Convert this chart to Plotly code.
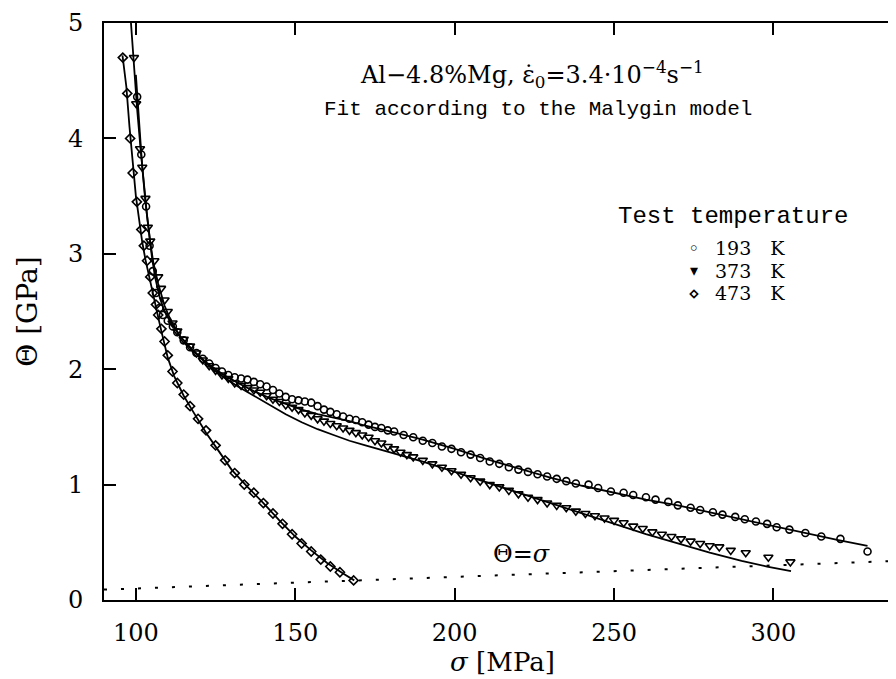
import plotly.graph_objects as go

# ---------------- data ----------------
# 193 K  (open circles)
s193 = [100.4, 101.7, 103.2, 104.3, 105.3, 106.3, 107.4, 108.5, 110, 111.6, 113, 115, 117, 119, 121, 123,
        125, 127, 129, 131, 133, 135, 137, 139, 141, 143, 145, 147, 149, 151, 153, 155, 157, 159, 161, 163,
        165, 167, 169, 171, 173, 175, 177, 179, 181, 184, 187, 190, 193, 196, 199, 202, 205, 208, 211, 214,
        217, 220, 223, 226, 229, 232, 235, 238, 242, 245, 249, 253, 256, 260, 263, 267, 270, 274, 277, 281,
        284, 288, 291, 294.5, 298, 301, 305, 310, 315, 321, 329.5]
t193 = [4.36, 3.86, 3.41, 3.07, 2.85, 2.66, 2.53, 2.47, 2.42, 2.37, 2.32, 2.25, 2.19, 2.14, 2.09, 2.05,
        2.01, 1.98, 1.95, 1.93, 1.92, 1.91, 1.89, 1.87, 1.85, 1.82, 1.79, 1.76, 1.74, 1.73, 1.72, 1.71, 1.68, 1.65, 1.63, 1.61,
        1.59, 1.57, 1.56, 1.54, 1.52, 1.50, 1.49, 1.47, 1.46, 1.43, 1.41, 1.38, 1.36, 1.33, 1.31, 1.28, 1.26, 1.23, 1.20, 1.18,
        1.15, 1.13, 1.11, 1.09, 1.07, 1.05, 1.03, 1.01, 1.00, 0.97, 0.94, 0.93, 0.91, 0.89, 0.87, 0.85, 0.82, 0.80, 0.78, 0.76,
        0.74, 0.72, 0.70, 0.68, 0.66, 0.63, 0.61, 0.58, 0.55, 0.53, 0.42]

# 373 K  (triangles)
s373 = [99.4, 100.1, 101.3, 102.0, 103.0, 103.75, 104.5, 105.8, 107, 107.9, 109, 110, 111.5, 113, 115, 117,
        119, 121, 123, 125, 127, 129, 131, 133, 135, 137, 139, 141, 143, 145, 147, 149, 151, 153, 155, 157,
        159, 161, 163, 165, 167, 169, 171, 173, 175, 177, 179, 181, 183, 185, 187, 190, 193, 196, 199, 202,
        205, 208, 211, 214, 217, 220, 223, 226, 229, 232, 235, 238, 241, 244, 247, 250, 253, 256, 259, 262,
        265, 268, 271, 274, 277, 280, 283, 286.6, 291.3, 298.4, 305.3]
t373 = [4.70, 4.30, 3.91, 3.75, 3.48, 3.23, 3.11, 2.94, 2.80, 2.70, 2.60, 2.50, 2.40, 2.33, 2.26, 2.20,
        2.14, 2.08, 2.03, 1.99, 1.95, 1.92, 1.88, 1.86, 1.84, 1.82, 1.80, 1.77, 1.74, 1.72, 1.69, 1.67, 1.65, 1.62, 1.60, 1.57,
        1.55, 1.53, 1.51, 1.49, 1.47, 1.45, 1.43, 1.41, 1.38, 1.36, 1.33, 1.31, 1.28, 1.26, 1.24, 1.21, 1.18, 1.15, 1.12, 1.09,
        1.06, 1.03, 1.00, 0.98, 0.95, 0.92, 0.89, 0.87, 0.84, 0.82, 0.80, 0.77, 0.75, 0.73, 0.71, 0.69, 0.67, 0.64, 0.62, 0.59,
        0.57, 0.55, 0.53, 0.51, 0.49, 0.47, 0.46, 0.43, 0.41, 0.37, 0.33]

# 473 K  (diamonds)
s473 = [95.9, 97.3, 98.2, 99.0, 100.3, 101.7, 102.5, 103.5, 104.5, 105.3, 106.3, 107, 108, 109, 110, 111.5,
        113, 115, 117, 119.5, 122, 125, 128, 131, 134, 137, 140, 143, 146, 149, 152, 155, 158, 161, 164, 168.3]
t473 = [4.70, 4.39, 4.00, 3.70, 3.45, 3.21, 3.07, 2.94, 2.80, 2.66, 2.56, 2.47, 2.35, 2.24, 2.12, 1.98,
        1.88, 1.78, 1.68, 1.57, 1.47, 1.34, 1.21, 1.10, 1.00, 0.93, 0.84, 0.75, 0.66, 0.57, 0.49, 0.42, 0.35, 0.29, 0.24, 0.17]

# Malygin-model fits (solid lines)
fit193_s = [100.0, 101, 102, 103, 104, 105, 106, 107.5, 109, 111, 114, 118, 122, 127, 132, 137, 142, 147, 152, 157,
            162, 167, 172, 180, 190, 200, 210, 220, 230, 240, 250, 260, 270, 280, 290, 300, 310, 320, 329.5]
fit193_t = [4.55, 4.10, 3.75, 3.45, 3.20, 2.98, 2.80, 2.62, 2.50, 2.40, 2.28, 2.16, 2.06, 1.96, 1.88, 1.81, 1.75, 1.70, 1.65, 1.61,
            1.58, 1.55, 1.51, 1.46, 1.39, 1.31, 1.22, 1.14, 1.06, 0.99, 0.93, 0.87, 0.82, 0.76, 0.70, 0.64, 0.58, 0.52, 0.47]
fit373_s = [98.2, 99.3, 100.4, 101.5, 102.5, 103.5, 104.5, 105.5, 107, 109, 111, 114, 118, 122, 127, 132, 137, 142, 147, 152,
            157, 162, 167, 172, 180, 190, 200, 210, 220, 230, 240, 250, 260, 270, 280, 290, 298, 305.5]
fit373_t = [5.10, 4.65, 4.25, 3.90, 3.60, 3.33, 3.10, 2.92, 2.74, 2.55, 2.42, 2.28, 2.16, 2.05, 1.94, 1.85, 1.77, 1.69, 1.61, 1.54,
            1.48, 1.43, 1.38, 1.34, 1.28, 1.20, 1.11, 1.02, 0.93, 0.84, 0.75, 0.66, 0.57, 0.49, 0.41, 0.34, 0.29, 0.25]
fit473_s = [95.8, 97, 98, 99, 100, 101, 102, 103, 104, 105, 106, 107, 108, 110, 112, 115, 118, 122, 126, 130, 135, 140,
            145, 150, 155, 160, 165, 168.5]
fit473_t = [4.72, 4.45, 4.10, 3.78, 3.50, 3.30, 3.10, 2.95, 2.82, 2.68, 2.58, 2.45, 2.33, 2.10, 1.94, 1.77, 1.63, 1.45, 1.29, 1.13,
            0.98, 0.84, 0.69, 0.55, 0.43, 0.32, 0.23, 0.17]

# Theta = sigma line (GPa vs MPa)
line_s = [90, 340]
line_t = [s / 1000 for s in line_s]

stray_s = [338.5]
stray_t = [0.60]

x_ticks = [100, 150, 200, 250, 300]
y_ticks = [0, 1, 2, 3, 4, 5]

legend_labels = ["193 K", "373 K", "473 K"]
legend_symbols = ["\u25e6", "\u25be", "\u22c4"]

# ---------------- figure ----------------
SERIF = "DejaVu Serif"
fig = go.Figure()

fig.add_trace(go.Scatter(x=line_s, y=line_t, mode="lines",
                         line=dict(color="black", width=2, dash="3px,14px"), showlegend=False))

for fs, ft in [(fit193_s, fit193_t), (fit373_s, fit373_t), (fit473_s, fit473_t)]:
    fig.add_trace(go.Scatter(x=fs, y=ft, mode="lines", line=dict(color="black", width=1.8),
                             showlegend=False))

fig.add_trace(go.Scatter(x=s473, y=t473, mode="markers", showlegend=False,
                         marker=dict(symbol="diamond-open", size=7, color="black", line=dict(width=1.6))))
fig.add_trace(go.Scatter(x=s373, y=t373, mode="markers", showlegend=False,
                         marker=dict(symbol="triangle-down-open", size=8, color="black", line=dict(width=1.6))))
fig.add_trace(go.Scatter(x=s193, y=t193, mode="markers", showlegend=False,
                         marker=dict(symbol="circle-open", size=7, color="black", line=dict(width=1.6))))
fig.add_trace(go.Scatter(x=stray_s, y=stray_t, mode="markers", showlegend=False,
                         marker=dict(symbol="circle", size=4, color="black")))

axis_common = dict(showgrid=False, zeroline=False, showline=True, linecolor="black", linewidth=2,
                   mirror="allticks", ticks="inside", ticklen=12, tickwidth=1.5, tickcolor="black",
                   tickfont=dict(family=SERIF, size=24, color="black"))

fig.update_layout(
    width=896, height=679,
    margin=dict(l=96, r=1, t=14, b=87),
    paper_bgcolor="white", plot_bgcolor="white",
    showlegend=False,
    xaxis=dict(range=[90, 340], tickvals=x_ticks, ticklabelstandoff=10,
               title=dict(text="<i>\u03c3</i> [MPa]", font=dict(family=SERIF, size=26, color="black"), standoff=0),
               **axis_common),
    yaxis=dict(range=[0, 5], tickvals=y_ticks, ticklabelstandoff=14,
               title=dict(text="\u0398 [GPa]", font=dict(family=SERIF, size=28, color="black"), standoff=22),
               **axis_common),
)


def px_x(p):
    return (p - 96) / 799


def px_y(p):
    return (592 - p) / 578


fig.add_annotation(x=px_x(525), y=px_y(66), xref="paper", yref="paper", showarrow=False,
                   xanchor="center", yanchor="middle",
                   text="Al\u22124.8%Mg, \u03b5\u0307<sub>0</sub>=3.4\u00b710<sup>\u22124</sup>s<sup>\u22121</sup>",
                   font=dict(family=SERIF, size=24, color="black"))
fig.add_annotation(x=px_x(531), y=px_y(101), xref="paper", yref="paper", showarrow=False,
                   xanchor="center", yanchor="middle",
                   text="Fit according to the Malygin model",
                   font=dict(family="Liberation Mono", size=21, color="black"))
fig.add_annotation(x=px_x(727), y=px_y(208), xref="paper", yref="paper", showarrow=False,
                   xanchor="center", yanchor="middle",
                   text="Test temperature",
                   font=dict(family="Liberation Mono", size=24, color="black"))

leg_rows = [239.5, 262, 284.5]
sym_sizes = [19, 16, 19]
for sym, lab, row, ss in zip(legend_symbols, legend_labels, leg_rows, sym_sizes):
    fig.add_annotation(x=px_x(687), y=px_y(row), xref="paper", yref="paper", showarrow=False,
                       xanchor="center", yanchor="middle",
                       text=sym, font=dict(family="DejaVu Sans", size=ss, color="black"))
    fig.add_annotation(x=px_x(707), y=px_y(row), xref="paper", yref="paper", showarrow=False,
                       xanchor="left", yanchor="middle",
                       text=lab.replace(" ", "\u2003"),
                       font=dict(family=SERIF, size=19, color="black"))

fig.add_annotation(x=221, y=0.40, xref="x", yref="y", showarrow=False,
                   xanchor="center", yanchor="middle",
                   text="\u0398=<i>\u03c3</i>", font=dict(family=SERIF, size=24, color="black"))

fig.write_html("out.html")
